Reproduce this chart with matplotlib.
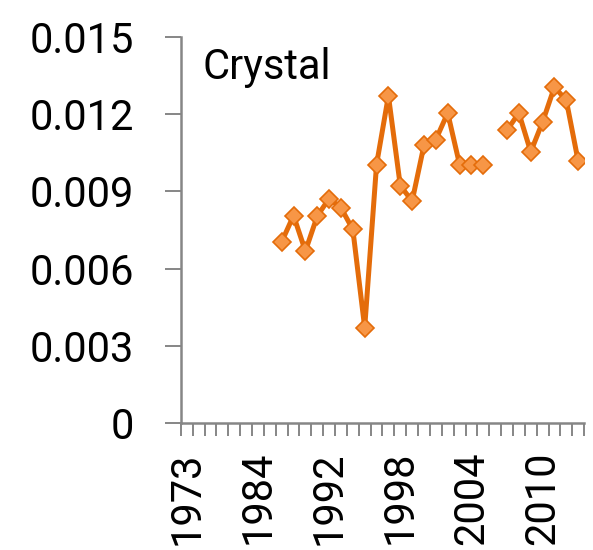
import numpy as np
import matplotlib
matplotlib.use("Agg")
import matplotlib.pyplot as plt

years = [1973, 1976, 1978, 1980, 1982, 1983, 1984, 1985, 1986, 1988, 1989, 1990,
         1992, 1993, 1994, 1995, 1996, 1997, 1998, 1999, 2000, 2001, 2002, 2003,
         2004, 2005, 2006, 2007, 2008, 2009, 2010, 2011, 2012, 2013]
crystal = [None, None, None, None, None, None, None, None,
           0.00704, 0.00806, 0.00668, 0.00804, 0.00872, 0.00836, 0.00752, 0.00371,
           0.01004, 0.01271, 0.00922, 0.00862, 0.01079, 0.01101, 0.01204, 0.01004,
           0.01004, 0.01004, None, 0.01137, 0.01204, 0.01053, 0.01169, 0.01305,
           0.01253, 0.01017]
yticks = [0, 0.003, 0.006, 0.009, 0.012, 0.015]
ytick_labels = ["0", "0.003", "0.006", "0.009", "0.012", "0.015"]
label_years = [1973, 1984, 1992, 1998, 2004, 2010]
series_name = "Crystal"

plt.rcParams['font.family'] = ['Roboto', 'DejaVu Sans']
axis_color = "#868686"

fig = plt.figure(figsize=(5.93, 5.5), dpi=100)
ax = fig.add_axes([0.305, 0.2304, 0.68, 0.7029])

x = np.arange(len(years))
y = np.array([np.nan if v is None else v for v in crystal], dtype=float)
ax.plot(x, y, color="#E46C0A", lw=3.6, marker="D", ms=9.5,
        markerfacecolor="#F79646", markeredgecolor="#E46C0A", markeredgewidth=1.2,
        solid_joinstyle="miter")

ax.set_xlim(-0.5, len(years) - 0.5)
ax.set_ylim(0, 0.015)
ax.set_yticks(yticks)
ax.set_yticklabels(ytick_labels)

ax.set_xticks(np.arange(len(years) + 1) - 0.5, minor=True)
ax.set_xticks([years.index(yv) for yv in label_years])
ax.set_xticklabels([str(v) for v in label_years], rotation=90)

for s in ["top", "right"]:
    ax.spines[s].set_visible(False)
for s in ["left", "bottom"]:
    ax.spines[s].set_color(axis_color)
    ax.spines[s].set_linewidth(1.8)

ax.tick_params(axis="y", which="major", direction="out", length=11.5, width=1.4,
               color=axis_color, labelsize=30, pad=22)
ax.tick_params(axis="x", which="major", length=0, labelsize=30, pad=20)
ax.tick_params(axis="x", which="minor", direction="out", length=9.5, width=1.4,
               color=axis_color)

ax.text(0.053, 0.974, series_name, transform=ax.transAxes, fontsize=30,
        ha="left", va="top")

fig.savefig("out.png", dpi=100)
